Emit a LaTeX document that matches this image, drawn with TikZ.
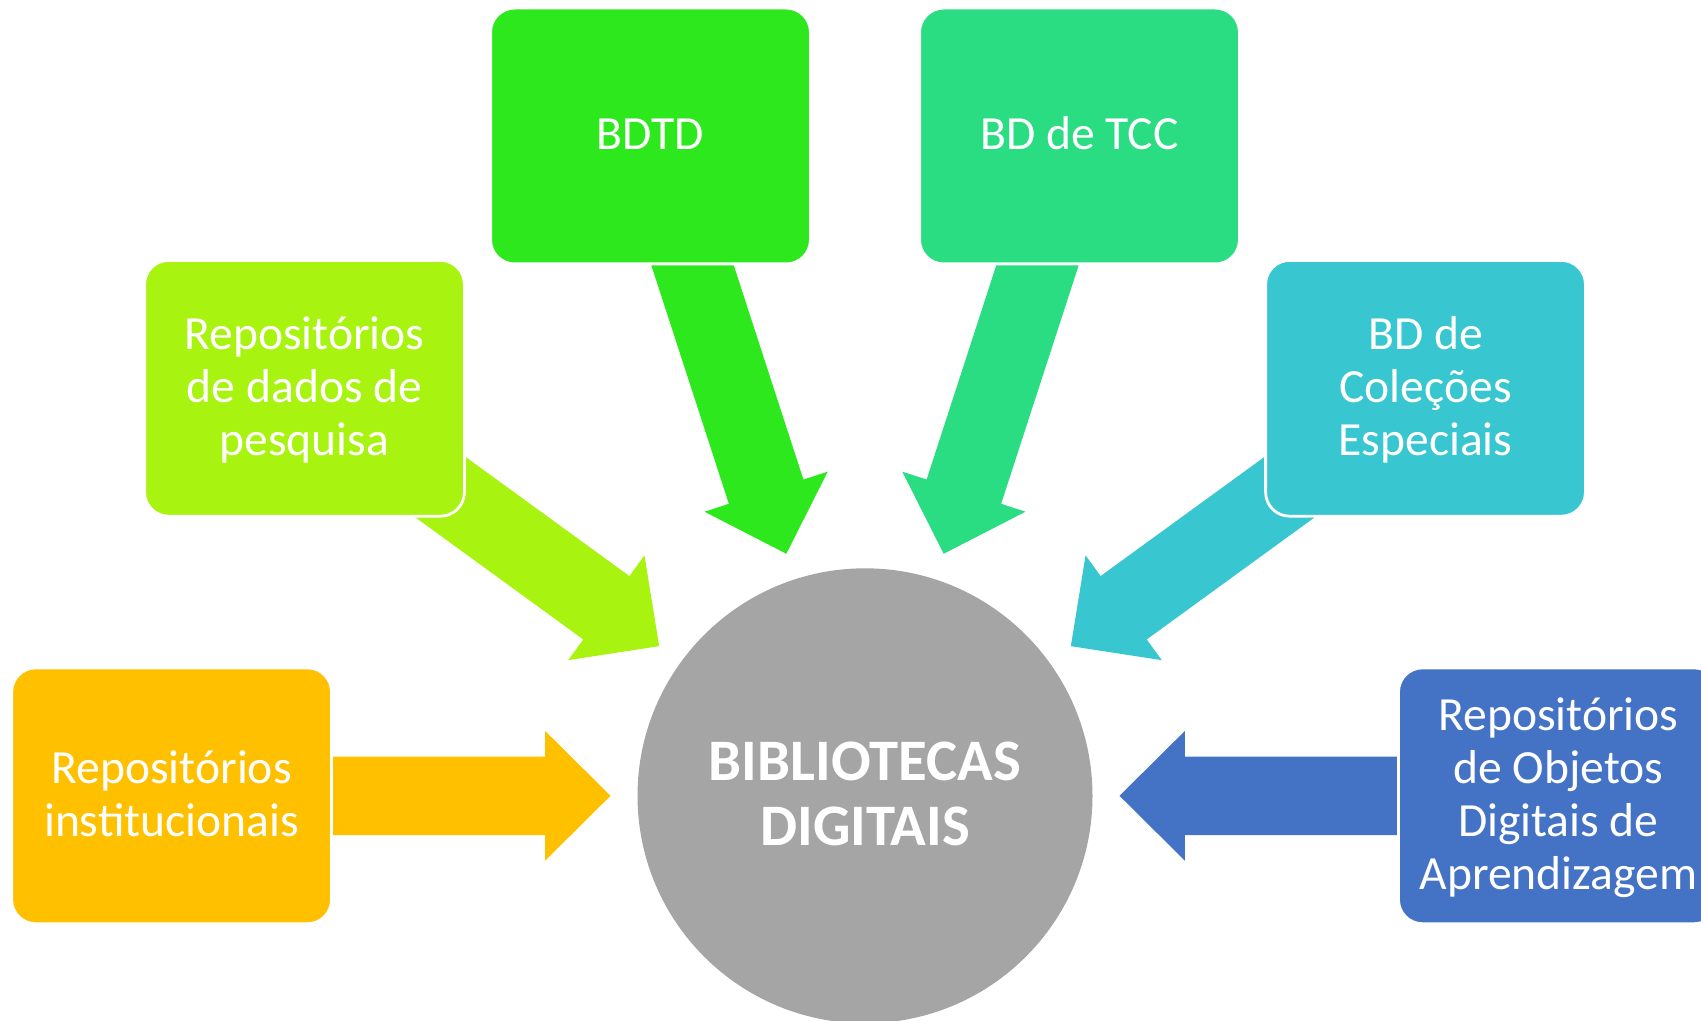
\documentclass[tikz,border=0pt]{standalone}
\usepackage{fontspec}
\setmainfont{Carlito}
\usetikzlibrary{calc,backgrounds}
\definecolor{cBDTD}{HTML}{2EE81E}
\definecolor{cTCC}{HTML}{2ADC82}
\definecolor{cLime}{HTML}{A8F310}
\definecolor{cCyan}{HTML}{38C6D0}
\definecolor{cYel}{HTML}{FFC000}
\definecolor{cBlue}{HTML}{4472C4}
\definecolor{cGray}{HTML}{A5A5A5}
% uniform line boxes, as in the original slide
\newcommand\mystrut{\rule[-6pt]{0pt}{26pt}}
\newcommand\hubstrut{\rule[-7.8pt]{0pt}{32.3pt}}
% block arrow from the centre of box #1 towards the hub, colour #2
\newcommand\blockarr[2]{%
  \coordinate (t-#1) at ($(hub.center)!127.25pt!(#1.center)$);
  \coordinate (b-#1) at ($(t-#1)!32.65pt!(#1.center)$);
  \fill[#2] ($(#1.center)!19.6pt!90:(t-#1)$) -- ($(b-#1)!19.6pt!90:(t-#1)$)
     -- ($(b-#1)!32.4pt!90:(t-#1)$) -- (t-#1) -- ($(b-#1)!32.4pt!-90:(t-#1)$)
     -- ($(b-#1)!19.6pt!-90:(t-#1)$) -- ($(#1.center)!19.6pt!-90:(t-#1)$) -- cycle;}
\tikzset{
  boxnode/.style={rectangle, rounded corners=12pt, draw=white, line width=1.4pt,
    minimum width=159.9pt, minimum height=127.9pt, inner sep=0pt, align=center,
    text=white, font=\fontsize{23.8pt}{26.5pt}\selectfont},
  hubnode/.style={circle, fill=cGray, minimum size=227.5pt, inner sep=0pt,
    align=center, text=white, font=\bfseries\fontsize{29.4pt}{32.5pt}\selectfont},
}
\begin{document}
\begin{tikzpicture}[x=0.5pt,y=-0.5pt]
\useasboundingbox (0,0) rectangle (1701,1021);
\node[boxnode, fill=cBDTD] (bdtd) at (650.5,136) {\mystrut BDTD};
\node[boxnode, fill=cTCC] (tcc) at (1079.5,136) {\mystrut BD de TCC};
\node[boxnode, fill=cLime] (dados) at (304.5,388.3)
  {\mystrut Repositórios\\\mystrut de dados de\\\mystrut pesquisa};
\node[boxnode, fill=cCyan] (colec) at (1425.5,388.3)
  {\mystrut BD de\\\mystrut Coleções\\\mystrut Especiais};
\node[boxnode, fill=cYel] (inst) at (171.6,795.8)
  {\mystrut Repositórios\\\mystrut institucionais};
\node[boxnode, fill=cBlue] (oda) at (1558.4,795.8)
  {\mystrut Repositórios\\\mystrut de Objetos\\\mystrut Digitais de\\\mystrut Aprendizagem};
\node[hubnode] (hub) at (865,795.8) {\hubstrut BIBLIOTECAS\\\hubstrut DIGITAIS};
\begin{scope}[on background layer]
  \blockarr{bdtd}{cBDTD}
  \blockarr{tcc}{cTCC}
  \blockarr{dados}{cLime}
  \blockarr{colec}{cCyan}
  \blockarr{inst}{cYel}
  \blockarr{oda}{cBlue}
\end{scope}
\end{tikzpicture}
\end{document}
